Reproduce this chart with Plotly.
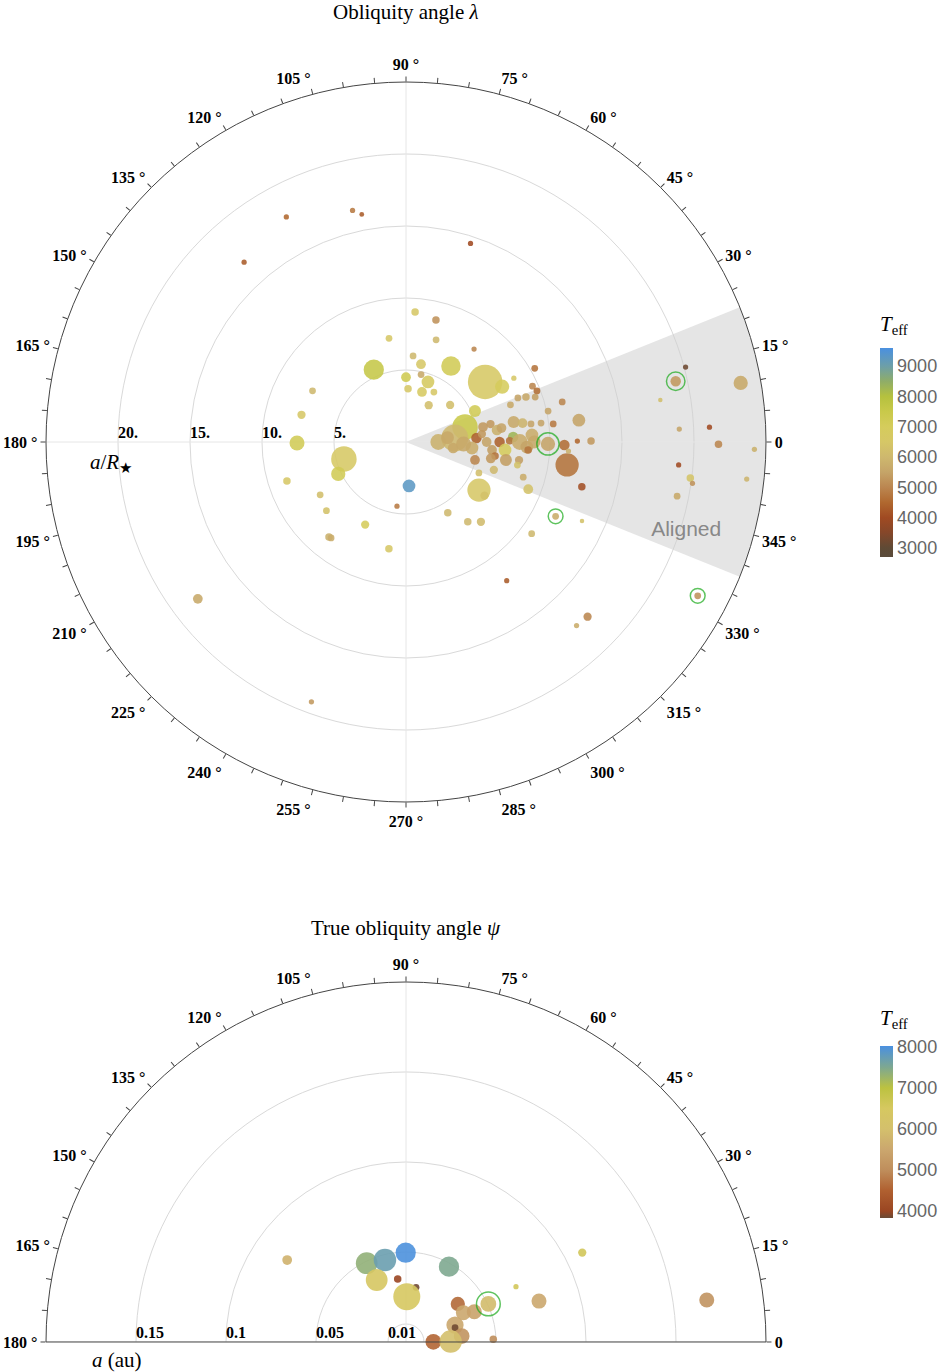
import plotly.graph_objects as go

# ---- top panel: projected obliquity lambda vs a/R*
top_aR = [17.7, 16.5, 16.1, 14.5, 16.8, 20.1, 19.2, 23.6, 17.9, 19.0, 21.1, 21.7, 24.2, 19.0,
          19.9, 20.1, 23.8, 19.2, 11.6, 13.4, 22.9, 17.5, 17.4, 11.9, 18.1, 19.2, 11.3, 12.6,
          7.57, 4.47, 5.2, 7.5, 7.4, 8.7, 7.0, 7.3, 8.5, 8.45, 6.4, 7.5, 3.06, 4.5, 5.5,
          9.05, 8.72, 7.3, 7.4, 8.0, 6.0, 5.5, 6.13, 6.9, 7.7, 4.5, 4.8, 4.44, 3.7, 3.65, 3.97,
          3.0, 4.0, 5.25, 8.7, 10.3, 9.6, 9.76, 8.9, 8.35, 9.5, 7.7, 10.1, 11.2, 12.1, 10.3,
          11.9, 12.85, 11.0, 11.3, 9.86, 9.1, 8.5, 6.07, 6.6, 5.5, 6.4, 5.7, 7.0, 7.6, 10.8,
          4.23, 3.4, 2.24, 4.9, 4.6, 3.3, 5.45, 5.6, 6.0, 6.26, 4.95, 6.0, 6.37, 6.5, 6.9,
          7.05, 6.7, 7.6, 8.2, 7.45, 7.2, 7.9, 8.4, 8.76, 8.9, 8.77, 9.47, 8.5, 7.95, 7.9,
          5.3, 6.0, 4.0, 2.9]
top_lam = [118, 103, 101, 72, 132, 15, 12.7, 10, 9.4, 2.7, 2.8, -0.4, -1.2, -4.8,
           -7.2, -8.2, -6.2, -11.3, -26.4, -24.2, -27.8, -43.9, -47.1, -54, 217, 250, -8.1, -14.3,
           180.5, 195.3, 205.2, 165.4, 151.3, 198.1, 211.6, 220.8, 231, 232, 243.7, 260.9, 273.9, 262, 114,
           86, 76.2, 99.3, 73.6, 53.8, 85.3, 79.1, 59.4, 37.2, 29.9, 90, 77.4, 69.9, 87.8, 72.3, 60.8,
           58.3, 40, 24.2, 30.6, 29.8, 23.8, 21.3, 20.6, 21.5, 19.2, 19.6, 12.3, 14.4, 7.2, 7.0,
           0.3, 0.3, -1.1, -3.2, -0.8, -21.1, -16.7, -33.4, -34.3, -23, -17.6, -59.4, -52.2, -46.8, -36.1,
           14.3, 4.7, 0, 3.2, -5.2, -7.3, 11, 0, -5.3, -8.9, -14.6, 12, 7.5, 0, -4.6,
           -10.2, 8.3, 10.5, 9.2, 2.7, 0.7, 0, -2.4, 3.2, 0, 8.2, 8.0, -3.8, -9.1, -11.7,
           6, -11, -2, 6]
top_rp = [0.35, 0.35, 0.32, 0.35, 0.35, 0.35, 0.7, 0.95, 0.3, 0.35, 0.35, 0.5, 0.35, 0.35,
          0.5, 0.35, 0.35, 0.45, 0.45, 0.3, 0.45, 0.55, 0.35, 0.35, 0.65, 0.35, 1.55, 0.5,
          1.0, 1.7, 0.95, 0.55, 0.45, 0.5, 0.45, 0.45, 0.5, 0.45, 0.55, 0.5, 0.85, 0.35, 1.35,
          0.5, 0.5, 0.45, 0.45, 0.35, 0.45, 0.65, 1.3, 2.3, 0.95, 0.65, 0.45, 0.85, 0.5, 0.65, 0.45,
          0.55, 0.55, 0.8, 0.35, 0.45, 0.45, 0.45, 0.5, 0.45, 0.45, 0.45, 0.45, 0.45, 0.85, 0.45,
          0.35, 0.5, 0.7, 0.35, 0.95, 0.65, 0.45, 1.55, 0.55, 0.45, 0.55, 0.5, 0.5, 0.55, 0.45,
          1.7, 1.8, 1.05, 0.7, 0.85, 0.7, 0.65, 0.65, 0.65, 0.5, 0.65, 0.55, 0.7, 0.7, 0.85,
          0.8, 0.65, 0.8, 0.65, 0.7, 0.5, 1.05, 0.85, 0.85, 0.85, 0.45, 0.45, 0.5, 0.55, 0.45,
          0.55, 0.65, 1.0, 0.85]
top_teff = [4500, 4800, 4300, 4000, 4300, 3200, 5300, 5600, 6200, 5500, 4000, 5000, 5800, 4000,
            6400, 5200, 5900, 5600, 5700, 6300, 5200, 5000, 5700, 4300, 5600, 5300, 4700, 4100,
            7200, 6600, 7200, 6500, 6000, 6500, 6200, 6300, 5800, 5700, 7000, 6500, 9300, 4800, 7600,
            6500, 5200, 6500, 6000, 5000, 6000, 6500, 7200, 6600, 7000, 7300, 5600, 6800, 6500, 6700, 6500,
            6200, 6200, 7200, 6500, 4700, 5000, 4600, 5600, 5500, 5400, 5600, 5500, 5000, 5500, 4800,
            4500, 5300, 4600, 5800, 5500, 6300, 5700, 6500, 6300, 6200, 6000, 6000, 6000, 6100, 6000,
            7500, 6000, 5800, 4400, 5700, 5600, 5300, 5500, 5400, 4700, 5000, 5300, 5800, 4400, 7000,
            5400, 5500, 5600, 5900, 8300, 4700, 5700, 5500, 5700, 5600, 5500, 5500, 4700, 5400, 6300,
            5300, 5300, 5600, 5600]
top_marked = [6, 18, 20, 78]
top_rticks = [5, 10, 15, 20]
top_rlabels = ["5.", "10.", "15.", "20."]

# ---- bottom panel: true obliquity psi vs a (au)
bot_a = [0.0802, 0.0489, 0.047, 0.0496, 0.0482, 0.0381, 0.0353, 0.0309, 0.0252, 0.0357,
         0.0504, 0.0358, 0.0415, 0.0288, 0.0284, 0.0311, 0.0152, 0.0248, 0.0485, 0.0684,
         0.1098, 0.0773, 0.1687]
bot_psi = [145.4, 116.5, 104.4, 90.2, 60.3, 115.3, 97.5, 79.6, 89, 36.3,
           24.8, 27.1, 23.9, 19.1, 16.3, 6.1, 0.5, 0.5, 1.8, 26.7,
           26.9, 17.1, 7.95]
bot_rp = [0.65, 1.45, 1.5, 1.35, 1.35, 1.45, 0.5, 0.45, 1.8, 0.95,
          1.05, 1.0, 1.0, 1.15, 0.45, 1.05, 1.05, 1.5, 0.5, 0.35,
          0.55, 1.0, 1.0]
bot_teff = [5700, 7350, 7700, 8000, 7500, 6400, 4000, 3850, 6500, 4600,
            5900, 5500, 5400, 5500, 3850, 5100, 4550, 6000, 5000, 6600,
            6600, 5500, 5100]
bot_marked = [10]
bot_rticks = [0.01, 0.05, 0.1, 0.15]
bot_rlabels = ["0.01", "0.05", "0.1", "0.15"]

top_stops = [(2700, "#5a4b3b"), (3000, "#5f4a35"), (3500, "#85472a"), (4000, "#a04a22"),
             (4500, "#b0682f"), (5000, "#bb8650"), (5500, "#c5a468"), (6000, "#ceb86e"),
             (6500, "#d6c766"), (7000, "#d5cc5c"), (7500, "#c9c94a"), (8000, "#b5c13e"),
             (8500, "#8fad68"), (9000, "#6d9fa8"), (9600, "#4a90e0")]
bot_stops = [(3830, "#6a4a35"), (4000, "#9a4622"), (4500, "#b06030"), (5000, "#bf8e5c"),
             (5500, "#cba76e"), (6000, "#d4c06c"), (6500, "#d6c860"), (7000, "#bcc240"),
             (7500, "#7ea890"), (8020, "#4a90e0")]


def scale(stops):
    lo, hi = stops[0][0], stops[-1][0]
    return [[(t - lo) / (hi - lo), c] for t, c in stops], lo, hi


PX = 15  # marker diameter per unit planet radius
serif = "Liberation Serif"
sans = "Liberation Sans"
tickfont = dict(family=serif, size=16, color="black", weight="bold")

fig = go.Figure()

# aligned wedge
fig.add_trace(go.Barpolar(r=[25], theta=[0], width=[44], base=0,
                          marker=dict(color="#cfcfcf", line=dict(width=0)),
                          opacity=0.55, subplot="polar", hoverinfo="skip", showlegend=False))


def cross(rmax, angles, sub):
    for a in angles:
        fig.add_trace(go.Scatterpolar(r=[0, rmax], theta=[a, a], mode="lines",
                                      line=dict(color="#e6e6e6", width=1), subplot=sub,
                                      hoverinfo="skip", showlegend=False))


cross(25, [0, 90, 180, 270], "polar")
cross(0.2, [0, 90, 180], "polar2")


def rlabels(vals, txt, sub):
    fig.add_trace(go.Scatterpolar(r=vals, theta=[180] * len(vals), mode="text", text=txt,
                                  textposition="top right", textfont=tickfont, subplot=sub,
                                  cliponaxis=False, hoverinfo="skip", showlegend=False))


rlabels(top_rticks, top_rlabels, "polar")
rlabels(bot_rticks, bot_rlabels, "polar2")


def cbar(y, length, vals):
    return dict(x=0.931, xanchor="left", y=y, yanchor="middle", len=length, thickness=13,
                outlinewidth=0, tickvals=vals, ticks="", ypad=0, xpad=0,
                tickfont=dict(family=sans, size=18, color="#666"))


cs, lo, hi = scale(top_stops)
fig.add_trace(go.Scatterpolar(
    r=top_aR, theta=top_lam, mode="markers", subplot="polar", showlegend=False,
    cliponaxis=False,
    marker=dict(size=[PX * v for v in top_rp], color=top_teff, colorscale=cs, cmin=lo, cmax=hi,
                opacity=0.88, line=dict(width=0),
                colorbar=cbar(0.6702, 0.1523, [3000, 4000, 5000, 6000, 7000, 8000, 9000]))))
fig.add_trace(go.Scatterpolar(
    r=[top_aR[i] for i in top_marked], theta=[top_lam[i] for i in top_marked],
    mode="markers", subplot="polar", showlegend=False, cliponaxis=False,
    marker=dict(symbol="circle-open", size=[PX * top_rp[i] + 8 for i in top_marked],
                color="#1aaa1a", line=dict(width=1.5))))
fig.add_trace(go.Scatterpolar(r=[20.4], theta=[-17.5], mode="text", text=["Aligned"],
                              textfont=dict(family=sans, size=21, color="#888"),
                              subplot="polar", showlegend=False, hoverinfo="skip"))

cs2, lo2, hi2 = scale(bot_stops)
fig.add_trace(go.Scatterpolar(
    r=bot_a, theta=bot_psi, mode="markers", subplot="polar2", showlegend=False,
    cliponaxis=False,
    marker=dict(size=[PX * v for v in bot_rp], color=bot_teff, colorscale=cs2, cmin=lo2, cmax=hi2,
                opacity=0.9, line=dict(width=0),
                colorbar=cbar(0.1749, 0.1254, [4000, 5000, 6000, 7000, 8000]))))
fig.add_trace(go.Scatterpolar(
    r=[bot_a[i] for i in bot_marked], theta=[bot_psi[i] for i in bot_marked],
    mode="markers", subplot="polar2", showlegend=False, cliponaxis=False,
    marker=dict(symbol="circle-open", size=[PX * bot_rp[i] + 8 for i in bot_marked],
                color="#1aaa1a", line=dict(width=1.5))))


def ang_ticks(stop):
    vals = list(range(0, stop, 5))
    txt = ["0" if v == 0 else (f"{v} °" if v % 15 == 0 else "") for v in vals]
    return vals, txt


av, at = ang_ticks(360)
av2, at2 = ang_ticks(185)

angular = dict(showgrid=False, linecolor="#444", linewidth=1, ticks="outside", ticklen=5,
               tickcolor="#444", tickfont=tickfont, rotation=0, direction="counterclockwise")
radial = dict(angle=180, showline=False, ticks="", showticklabels=False, gridcolor="#d9d9d9")


def label(text, x, y):
    return dict(text=text, x=x, y=y, xref="paper", yref="paper", yanchor="middle",
                showarrow=False, font=dict(family=serif, size=21, color="black"))


fig.update_layout(
    width=945, height=1372, margin=dict(l=0, r=0, t=0, b=0, autoexpand=False),
    paper_bgcolor="white", plot_bgcolor="white",
    polar=dict(domain=dict(x=[46 / 945, 766 / 945], y=[0.41545, 0.94023]), bgcolor="white",
               radialaxis=dict(range=[0, 25], tickvals=top_rticks, **radial),
               angularaxis=dict(tickvals=av, ticktext=at, **angular)),
    polar2=dict(domain=dict(x=[46 / 945, 766 / 945], y=[0.02187, 0.28426]), bgcolor="white",
                sector=[0, 180],
                radialaxis=dict(range=[0, 0.2], tickvals=bot_rticks, **radial),
                angularaxis=dict(tickvals=av2, ticktext=at2, **angular)),
    annotations=[
        label("Obliquity angle <i>λ</i>", 406 / 945, 0.991),
        label("True obliquity angle <i>ψ</i>", 406 / 945, 0.3236),
        label("<i>a</i>/<i>R</i><sub>★</sub>", 88 / 945, 0.6625),
        label("<i>a</i> (au)", 90 / 945, 0.0087),
        label("<i>T</i><sub>eff</sub>", 910 / 945, 0.7631),
        label("<i>T</i><sub>eff</sub>", 910 / 945, 0.2573),
    ],
)

fig.write_html("out.html", config={"displayModeBar": False},
               post_script="document.body.style.margin='0';")
